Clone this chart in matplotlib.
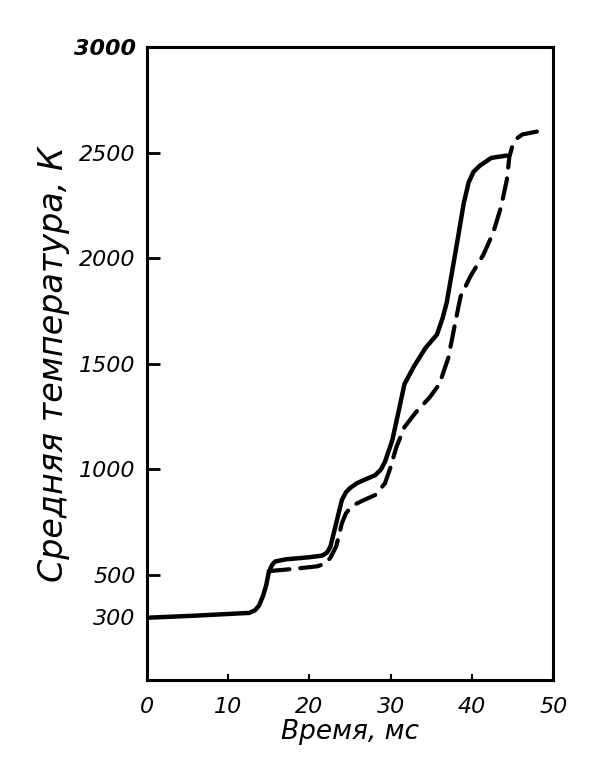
import matplotlib
matplotlib.use("Agg")
import matplotlib.pyplot as plt

# solid curve
t_solid = [0, 6, 12.6, 13.3, 13.8, 14.3, 14.7, 15.0, 15.4, 15.8, 17.1, 20,
           21.6, 22.2, 22.6, 23.3, 24.0, 24.5, 25.0, 25.8, 26.7, 28.1, 28.8,
           29.3, 30.2, 31.0, 31.7, 32.9, 34.3, 35.7, 36.4, 36.9, 38.1, 39.0,
           39.6, 40.2, 41.0, 42.4, 44.3]
T_solid = [295, 305, 318, 330, 352, 398, 450, 508, 545, 562, 572, 582,
           590, 605, 633, 743, 853, 890, 910, 932, 948, 971, 998,
           1034, 1136, 1277, 1403, 1489, 1575, 1638, 1717, 1790, 2056, 2262,
           2360, 2410, 2440, 2476, 2487]

# dashed curve
t_dash = [15.0, 18.1, 21.0, 22.0, 22.6, 23.3, 24.0, 24.5, 25.0, 25.8, 26.7,
          28.1, 29.3, 30.0, 30.7, 31.7, 33.1, 34.8, 36.0, 37.1, 37.9, 38.6,
          39.8, 41.4, 42.6, 43.6, 44.3, 44.6, 45.0, 45.6, 46.2, 48.3]
T_dash = [516, 527, 539, 553, 580, 633, 743, 790, 814, 836, 853,
          877, 932, 1010, 1104, 1199, 1269, 1340, 1403, 1528, 1685, 1818,
          1913, 2016, 2119, 2246, 2373, 2480, 2535, 2570, 2587, 2603]

yticks = [300, 500, 1000, 1500, 2000, 2500, 3000]
xticks = [0, 10, 20, 30, 40, 50]

fig = plt.figure(figsize=(6.14, 7.64), dpi=100)
ax = fig.add_axes([0.239, 0.110, 0.662, 0.828])

ax.plot(t_solid, T_solid, color="black", lw=3.2, solid_capstyle="round",
        solid_joinstyle="round")
ax.plot(t_dash, T_dash, color="black", lw=3.0, dashes=(5, 2.6),
        dash_capstyle="round", dash_joinstyle="round")

ax.set_xlim(0, 50)
ax.set_ylim(0, 3000)
ax.set_xticks(xticks)
ax.set_yticks(yticks)
ax.set_xticklabels([str(v) for v in xticks], fontsize=16, style="italic")
ax.set_yticklabels([str(v) for v in yticks], fontsize=16, style="italic")
ax.get_yticklabels()[-1].set_fontweight("bold")
ax.tick_params(axis="y", direction="in", length=9, width=2, pad=8)
ax.tick_params(axis="x", direction="in", length=4, width=1.5, pad=12)
for s in ax.spines.values():
    s.set_linewidth(2.2)

ax.set_xlabel("Время, мс", fontsize=19, style="italic", labelpad=2)
ax.set_ylabel("Средняя температура, К", fontsize=24, style="italic")
ax.yaxis.set_label_coords(-0.19, 0.5)

plt.savefig("out.png", dpi=100)
